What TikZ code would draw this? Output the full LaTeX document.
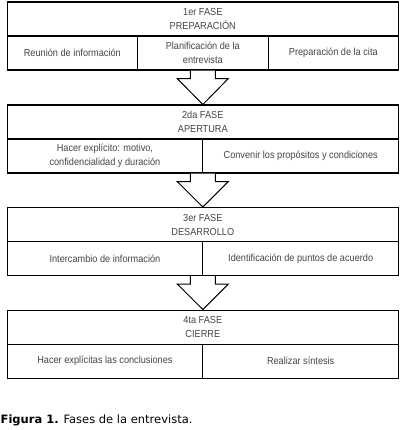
\documentclass[tikz,border=0pt]{standalone}
\usepackage{fontspec}
\setmainfont{Liberation Sans}[FakeStretch=0.9]
\newfontfamily\capfont{DejaVu Sans}
\definecolor{txt}{HTML}{444444}
\begin{document}
\begin{tikzpicture}[x=1pt,y=-1pt,
  box/.style={draw, line width=1.1pt, inner sep=0pt, anchor=north west,
    text=txt, font=\fontsize{10.2}{14}\selectfont, align=center, minimum height=34pt},
  head/.style={box, minimum width=391.5pt},
  third/.style={box, minimum width=130.5pt},
  half/.style={box, minimum width=195.75pt},
  barrow/.style={draw, line width=1pt, fill=white, line join=miter}]
\useasboundingbox (0,0) rectangle (403,430);
% Phase 1
\node[head] (h1) at (6.5,1.5) {1er FASE\\PREPARACIÓN};
\node[third] (c11) at (6.5,35.5) {Reunión de información};
\node[third] (c12) at (137,35.5) {Planificación de la\\entrevista};
\node[third] (c13) at (267.5,35.5) {Preparación de la cita};
% Phase 2
\node[head] (h2) at (6.5,104.5) {2da FASE\\APERTURA};
\node[half] (c21) at (6.5,138.5) {Hacer explícito: motivo,\\confidencialidad y duración};
\node[half] (c22) at (202.25,138.5) {Convenir los propósitos y condiciones};
% Phase 3
\node[head] (h3) at (6.5,207) {3er FASE\\DESARROLLO};
\node[half] (c31) at (6.5,241) {Intercambio de información};
\node[half] (c32) at (202.25,241) {Identificación de puntos de acuerdo};
% Phase 4
\node[head] (h4) at (6.5,309.5) {4ta FASE\\CIERRE};
\node[half] (c41) at (6.5,343.5) {Hacer explícitas las conclusiones};
\node[half] (c42) at (202.25,343.5) {Realizar síntesis};
% block arrows between phases
\foreach \a/\b in {c12/h2, c21/h3, c31/h4}{
  \path (h1.center |- \a.south) coordinate (s);
  \path (h1.center |- \b.north) coordinate (t);
  \draw[barrow] ([xshift=-12.5pt]s) -- ([xshift=-12.5pt,yshift=-8pt]s)
     -- ([xshift=-25.5pt,yshift=-8pt]s) -- (t)
     -- ([xshift=25.5pt,yshift=-8pt]s) -- ([xshift=12.5pt,yshift=-8pt]s)
     -- ([xshift=12.5pt]s);
}
% caption
\node[anchor=base west, inner sep=0pt, font=\capfont\fontsize{11.5}{13}\selectfont]
  (cap) at (0.5,423) {\textbf{Figura 1.} Fases de la entrevista.};
\end{tikzpicture}
\end{document}
